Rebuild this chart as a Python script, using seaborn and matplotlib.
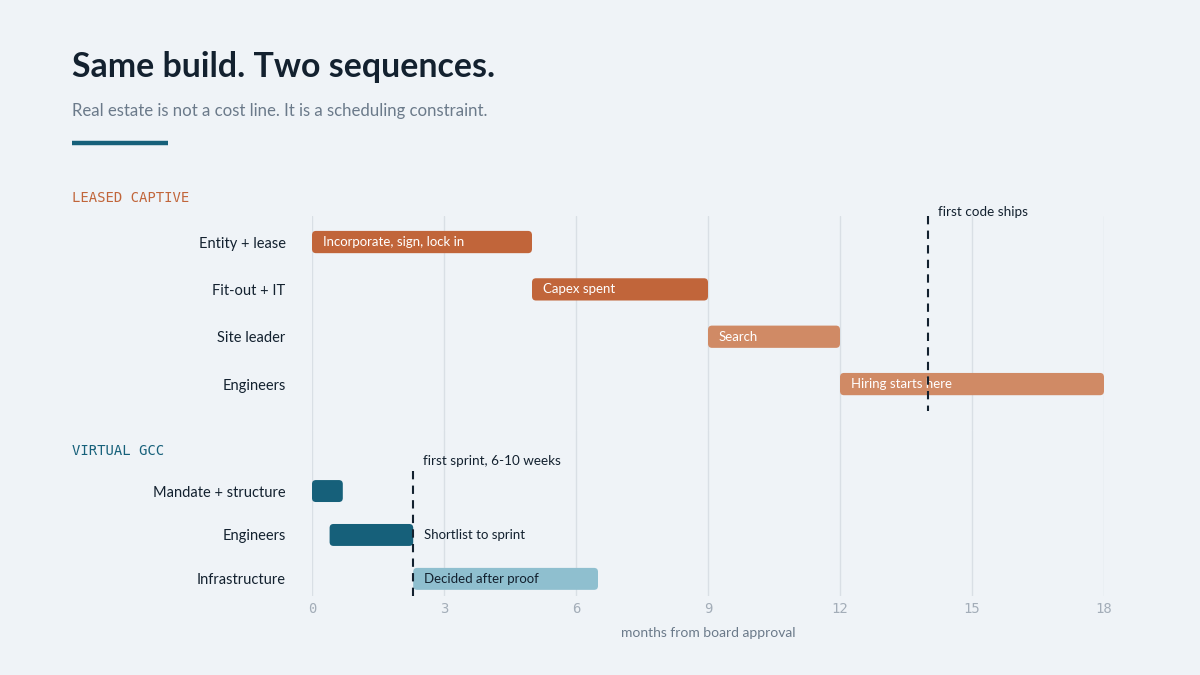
import matplotlib
matplotlib.use("Agg")
import matplotlib.pyplot as plt
from matplotlib.patches import FancyBboxPatch
import pandas as pd
import seaborn as sns

# data
leased_tasks = ["Entity + lease", "Fit-out + IT", "Site leader", "Engineers"]
leased_start = [0, 5, 9, 12]
leased_end = [5, 9, 12, 18]
leased_notes = ["Incorporate, sign, lock in", "Capex spent", "Search", "Hiring starts here"]
leased_marker = 14
leased_marker_label = "first code ships"

virtual_tasks = ["Mandate + structure", "Engineers", "Infrastructure"]
virtual_start = [0, 0.4, 2.3]
virtual_end = [0.7, 2.3, 6.5]
virtual_notes = ["", "Shortlist to sprint", "Decided after proof"]
virtual_marker = 2.3
virtual_marker_label = "first sprint, 6-10 weeks"

month_ticks = [0, 3, 6, 9, 12, 15, 18]

BG = "#EFF3F7"
INK = "#13212F"
MUTED = "#6B7A8A"
GRID = "#D9DFE5"
RUST = "#C1653A"
RUST_LIGHT = "#D08A65"
TEAL = "#16607A"
TEAL_LIGHT = "#8FBFCF"

sns.set_theme(style="white")
plt.rcParams["font.family"] = ["Lato", "DejaVu Sans"]
plt.rcParams["figure.facecolor"] = BG
plt.rcParams["axes.facecolor"] = BG

leased = pd.DataFrame({"task": leased_tasks, "start": leased_start, "end": leased_end, "note": leased_notes})
virtual = pd.DataFrame({"task": virtual_tasks, "start": virtual_start, "end": virtual_end, "note": virtual_notes})

fig = plt.figure(figsize=(12, 6.75), dpi=100)
ax1 = fig.add_axes([0.26, 1 - 430 / 675, 0.66, 214 / 675])
ax2 = fig.add_axes([0.26, 1 - 596 / 675, 0.66, 166 / 675], sharex=ax1)


def gantt(ax, df, colors, text_colors, height):
    rows = range(len(df))
    bars = ax.barh(list(rows), df["end"] - df["start"], left=df["start"], height=height)
    for bar, c in zip(bars, colors):
        x, y = bar.get_x(), bar.get_y()
        w, h = bar.get_width(), bar.get_height()
        bar.set_visible(False)
        ax.add_patch(FancyBboxPatch((x, y), w, h, boxstyle="round,pad=0,rounding_size=0.09",
                                    facecolor=c, edgecolor="none", zorder=3))
    for i, (s, note, tc) in enumerate(zip(df["start"], df["note"], text_colors)):
        if note:
            ax.text(s + 0.25, i, note, color=tc, fontsize=9.5, va="center", ha="left", zorder=4)
    ax.set_yticks(list(rows))
    ax.set_yticklabels(df["task"], fontsize=10.5, color=INK)
    ax.tick_params(axis="y", length=0, pad=19)
    ax.set_xlim(0, 18)
    ax.set_xticks(month_ticks)
    ax.grid(axis="x", color=GRID, lw=1)
    ax.set_axisbelow(True)
    for sp in ax.spines.values():
        sp.set_visible(False)


gantt(ax1, leased, [RUST, RUST, RUST_LIGHT, RUST_LIGHT], ["white"] * 4, 0.47)
ax1.set_ylim(3.97, -0.55)
ax1.tick_params(axis="x", length=0, labelbottom=False)
ax1.plot([leased_marker, leased_marker], [-0.55, 3.57], color=INK, lw=1.5, ls=(0, (4, 3)), zorder=5)
ax1.text(leased_marker + 0.22, -0.63, leased_marker_label, fontsize=9.7, color=INK, va="center")

gantt(ax2, virtual, [TEAL, TEAL, TEAL_LIGHT], ["white", INK, INK], 0.5)
# the engineers note sits to the right of its bar
ax2.texts[0].set_x(virtual_end[1] + 0.25)
ax2.set_ylim(2.39, -1.39)
ax2.plot([virtual_marker, virtual_marker], [-0.45, 2.52], color=INK, lw=1.5, ls=(0, (4, 3)),
         zorder=5, clip_on=False)
ax2.text(virtual_marker + 0.22, -0.68, virtual_marker_label, fontsize=9.7, color=INK, va="center")
ax2.tick_params(axis="x", length=0, pad=4, labelsize=10, labelcolor="#A3ADB8")
for lab in ax2.get_xticklabels():
    lab.set_family("DejaVu Sans Mono")
ax2.set_xlabel("months from board approval", fontsize=10, color=MUTED, labelpad=8)

fig.text(0.06, 1 - 67 / 675, "Same build. Two sequences.", fontsize=24.4, fontweight="bold",
         color=INK, va="center")
fig.text(0.06, 1 - 111 / 675, "Real estate is not a cost line. It is a scheduling constraint.",
         fontsize=12.1, color=MUTED, va="center")
fig.add_artist(plt.Line2D([72 / 1200, 168 / 1200], [1 - 143 / 675] * 2, color=TEAL, lw=3.2,
                          solid_capstyle="butt"))
fig.text(0.06, 1 - 198 / 675, "LEASED CAPTIVE", fontsize=10, color=RUST, va="center",
         family="DejaVu Sans Mono")
fig.text(0.06, 1 - 451 / 675, "VIRTUAL GCC", fontsize=10, color=TEAL, va="center",
         family="DejaVu Sans Mono")

fig.savefig("out.png", dpi=100, facecolor=BG)
